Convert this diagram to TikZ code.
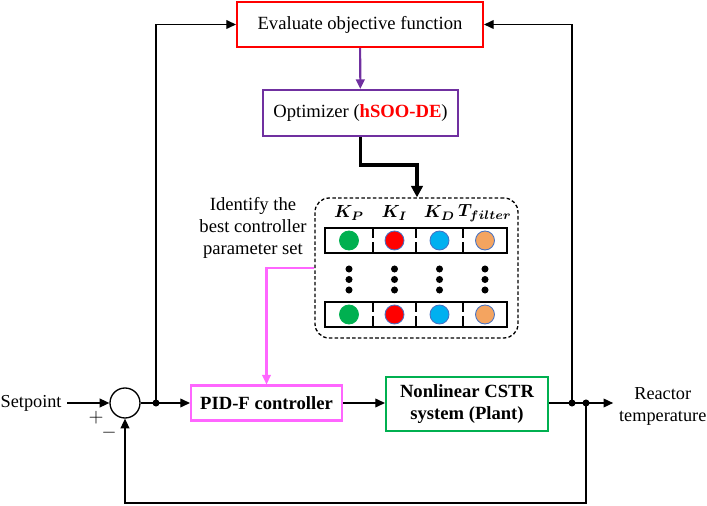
\documentclass[tikz,border=0pt]{standalone}
\usepackage{fontspec}
\setmainfont{Liberation Serif}
\usepackage{amsmath}
\usetikzlibrary{calc, arrows.meta}

\definecolor{evalred}{RGB}{255,0,0}
\definecolor{optpurple}{RGB}{112,48,160}
\definecolor{pidpink}{RGB}{255,102,255}
\definecolor{plantgreen}{RGB}{0,176,80}
\definecolor{kdblue}{RGB}{0,176,240}
\definecolor{tforange}{RGB}{244,164,96}
\definecolor{rimblue}{RGB}{68,114,196}

\begin{document}
\begin{tikzpicture}[x=0.02cm, y=-0.02cm, line width=0.75pt,
  block/.style={draw, line width=1.2pt, fill=white, inner sep=2pt, align=center,
    font=\fontsize{10.6}{12.5}\selectfont},
  sig/.style={-{Triangle[length=5.5pt,width=5pt]}},
  jdot/.style={circle, fill, inner sep=0pt, minimum size=4pt}]
  \useasboundingbox (0,0) rectangle (707,506);

  % blocks of the loop
  \node[block, draw=evalred, minimum width=4.92cm, minimum height=0.9cm] (eval) at (360,24.5) {Evaluate objective function};
  \node[block, draw=optpurple, minimum width=3.9cm, minimum height=0.92cm] (opt) at (360.5,113) {Optimizer (\textcolor{evalred}{\textbf{hSOO-DE}})};
  \node[block, draw=pidpink, minimum width=3.02cm, minimum height=0.7cm, font=\fontsize{10.6}{12.5}\selectfont\bfseries] (pid) at (266.5,403) {PID-F controller};
  \node[block, draw=plantgreen, minimum width=3.24cm, minimum height=1.08cm, font=\fontsize{10.6}{12.8}\selectfont\bfseries] (plant) at (467,404) {Nonlinear CSTR\\system (Plant)};
  \node[circle, draw, minimum size=0.6cm, inner sep=0pt] (sum) at (125,403) {};

  % parameter set
  \node[draw, dashed, dash pattern=on 2pt off 1.3pt, rounded corners=8pt, minimum width=4.06cm, minimum height=2.8cm] (pset) at (416.5,268) {};
  \node[align=center, font=\fontsize{10.6}{12.5}\selectfont] (ident) at (253,228) {Identify the\\best controller\\parameter set};
  \foreach \top in {228,302} {
    \draw (325,\top) rectangle (507,\top+25);
    \foreach \dx in {373,416,463} {
      \draw (\dx,\top) -- (\dx,\top+10.5);
      \draw (\dx,\top+14.5) -- (\dx,\top+25);
    }
  }
  \foreach \cx/\col/\rim/\lab [count=\i] in {349/plantgreen/plantgreen/{K_P}, 394.5/red/rimblue/{K_I}, 439.5/kdblue/rimblue/{K_D}, 485/tforange/rimblue/{T_{filter}}} {
    \node[font=\fontsize{9.6}{11}\selectfont\boldmath] (lab\i) at (\cx,213) {$\lab$};
    \node[circle, fill=\col, draw=\rim, line width=0.5pt, minimum size=0.38cm, inner sep=0pt] (top\i) at (\cx,240.5) {};
    \node[circle, fill=\col, draw=\rim, line width=0.5pt, minimum size=0.38cm, inner sep=0pt] (bot\i) at (\cx,314.5) {};
    \foreach \y in {269,279.5,290}
      \fill (\cx,\y) circle (2pt);
  }

  % signals and texts
  \node[anchor=west, inner sep=0pt, font=\fontsize{10.4}{12.5}\selectfont] (setpt) at (0,403) {Setpoint};
  \node[anchor=east, inner sep=0pt, align=center, font=\fontsize{10.4}{12.5}\selectfont] (rtemp) at (707,406) {Reactor\\temperature};
  \node[inner sep=0pt, font=\fontsize{10.6}{12}\selectfont] (plus) at (96,418) {$+$};
  \node[inner sep=0pt, font=\fontsize{10.6}{12}\selectfont] (minus) at (109,433) {$-$};
  \coordinate (jL) at (156,403);
  \coordinate (jR1) at (572,403);
  \coordinate (jR2) at (586,403);
  \coordinate (fbk) at (586,503);
  \coordinate (kink) at (417,165);

  \draw[sig, shorten <=3pt] (setpt) -- (sum);
  \draw (sum) -- (jL);
  \draw[sig] (jL) -- (pid);
  \draw[sig] (pid) -- (plant.west |- pid);
  \draw (plant.east |- jR2) -- (jR2);
  \draw[sig, shorten >=3pt] (jR2) -- (jR2 -| rtemp.west);
  \draw[sig] (jL) |- (eval.west);
  \draw[sig] (jR1) |- (eval.east);
  \draw[sig] (jR2) -- (fbk) -| (sum.south);
  \draw[sig, optpurple, line width=1.2pt] (eval) -- (opt);
  \draw[-{Triangle[length=6.5pt,width=6.5pt]}, line width=1.8pt] (opt.south) |- (kink) -- (kink |- pset.north);
  \draw[sig, pidpink, line width=1.2pt] (pset.west) -| (pid.north);
  \node[jdot] (dL) at (jL) {};
  \node[jdot] (dR1) at (jR1) {};
  \node[jdot] (dR2) at (jR2) {};
\end{tikzpicture}
\end{document}
